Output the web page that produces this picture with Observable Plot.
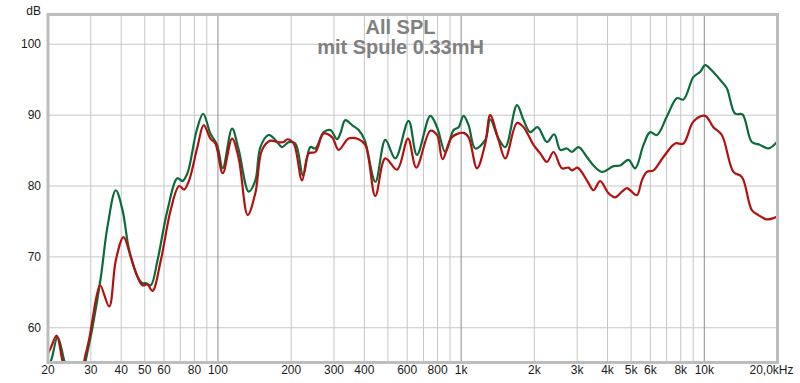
<!DOCTYPE html>
<html>
<head>
<meta charset="utf-8">
<script src="https://cdn.jsdelivr.net/npm/d3@7"></script>
<script src="https://cdn.jsdelivr.net/npm/@observablehq/plot@0.6"></script>
<style>
  html, body { margin: 0; padding: 0; background: #ffffff; }
  #chart svg { display: block; }
</style>
</head>
<body>
<div id="chart"></div>
<script>
// Frequency axis ticks and labels
const freqTicks = [20, 30, 40, 50, 60, 80, 100, 200, 300, 400, 600, 800, 1000, 2000, 3000, 4000, 5000, 6000, 8000, 10000];
const freqTickLabels = ["20", "30", "40", "50", "60", "80", "100", "200", "300", "400", "600", "800", "1k", "2k", "3k", "4k", "5k", "6k", "8k", "10k"];
const freqEndLabel = "20,0kHz";
const freqEnd = 20000;
const gridMinor = [30, 40, 50, 60, 70, 80, 90, 200, 300, 400, 500, 600, 700, 800, 900,
  2000, 3000, 4000, 5000, 6000, 7000, 8000, 9000];
const gridMajor = [100, 1000, 10000];
const dbTicks = [60, 70, 80, 90, 100];
const titleLines = "All SPL\nmit Spule 0.33mH";
const yUnit = "dB";

// Series (frequency Hz, level dB)
const greenSeries = [
  [20, 54.3], [20.7, 55.6], [21.9, 58.7], [23.3, 55.4], [25, 51], [27, 51], [28.6, 55.4],
  [30.5, 60.1], [33.0, 67.2], [35.1, 74.2], [38.0, 79.4], [40.5, 76.6], [43.1, 71.0],
  [46.7, 67.2], [48.9, 66.3], [50.5, 66.3], [52.9, 66.0], [56.4, 69.5], [62.0, 76.6],
  [68.1, 81.1], [71.4, 80.7], [74.9, 81.8], [81.8, 87.9], [86.9, 90.2], [93.1, 87.4],
  [99.2, 85.8], [104.6, 82.5], [114.3, 88.1], [121.7, 85.1], [133.8, 79.2], [142.5, 80.8],
  [149.4, 85.5], [161.6, 87.2], [172.3, 86.5], [183.5, 85.5], [195.3, 86.2], [208.1, 86.0],
  [223.8, 81.5], [239.9, 85.5], [251.5, 85.3], [272, 87.6], [289.8, 87.9], [308.8, 86.6],
  [318.6, 87.4], [334, 89.3], [356, 88.6], [379, 87.9], [401, 86.5], [444, 80.6],
  [488, 86.5], [536, 83.9], [608, 89.2], [658, 84.4], [747, 89.9], [796, 88.3],
  [861, 84.8], [931, 87.9], [976, 88.3], [1023, 89.9], [1073, 88.6], [1143, 85.3],
  [1257, 86.5], [1317, 89.4], [1425, 86.7], [1519, 85.5], [1697, 91.4], [1806, 89.3],
  [1924, 87.6], [2062, 88.3], [2253, 86.2], [2415, 87.3], [2556, 85.1], [2723, 85.3],
  [2855, 84.8], [3039, 85.5], [3290, 84.1], [3502, 82.9], [3792, 82.0], [4232, 82.8],
  [4510, 82.9], [4879, 83.7], [5198, 82.5], [5621, 85.8], [5990, 87.6], [6382, 87.2],
  [7015, 89.8], [7712, 92.4], [8208, 92.2], [9024, 95.4], [9613, 96.1], [10079, 97.05],
  [10740, 96.3], [11808, 94.7], [12378, 93.8], [13390, 90.2], [14347, 90.1], [15684, 86.2],
  [16964, 85.8], [18349, 85.3], [20000, 86.3]
];
const redSeries = [
  [20, 56.4], [20.5, 57.1], [21.7, 58.9], [22.9, 55.4], [24.5, 51], [27, 51], [28.2, 55.4],
  [29.5, 58.3], [31.9, 64.9], [32.8, 66.0], [35.7, 63.0], [38.0, 69.5], [40.9, 72.8],
  [43.8, 70.0], [46.7, 67.2], [48.9, 66.0], [51.3, 66.1], [53.8, 65.2], [58.2, 69.5],
  [63.9, 76.6], [69.2, 80.0], [72.6, 79.5], [76.1, 80.8], [82.3, 85.5], [87.4, 88.6],
  [93.1, 86.7], [97.6, 86.0], [104.6, 81.8], [114.3, 86.7], [121.7, 83.9], [132.5, 75.9],
  [142.5, 79.0], [151.9, 85.1], [164.3, 86.4], [175, 86.2], [186.3, 86.2], [193.4, 86.6],
  [204.8, 86.0], [221.7, 80.8], [236.1, 84.6], [251.5, 84.8], [272, 87.4], [294.5, 86.9],
  [313.5, 85.1], [344.7, 86.7], [378.8, 86.6], [403.6, 85.8], [443.7, 78.6], [487.8, 83.9],
  [545, 82.3], [604.6, 86.7], [654, 82.6], [746.7, 87.8], [795.6, 87.2], [838.9, 83.8],
  [917, 86.9], [1023, 87.5], [1073, 86.9], [1162, 82.5], [1257, 86.0], [1317, 90.0],
  [1425, 86.5], [1519, 83.9], [1697, 88.9], [1806, 88.3], [1985, 85.8], [2115, 84.6],
  [2253, 83.4], [2399, 84.8], [2597, 82.5], [2764, 82.6], [2855, 82.2], [3010, 82.6],
  [3290, 80.8], [3502, 79.4], [3731, 80.7], [4036, 79.0], [4301, 78.4], [4583, 79.2],
  [4805, 79.7], [4958, 79.4], [5282, 78.7], [5538, 80.8], [5805, 82.0], [6179, 82.2],
  [6792, 84.1], [7588, 86.0], [8208, 86.0], [9024, 89.1], [10079, 89.9], [10904, 88.3],
  [11808, 87.2], [13178, 82.0], [14268, 81.3], [15684, 76.6], [16693, 75.9], [18072, 75.3],
  [20000, 75.7]
];

const W = 800, H = 383;
const mL = 47.5, mR = 23, mT = 14, mB = 21;
const frameCenter = (mL + (W - mR)) / 2;

const chart = Plot.plot({
  width: W,
  height: H,
  marginLeft: mL,
  marginRight: mR,
  marginTop: mT,
  marginBottom: mB,
  x: { type: "log", domain: [20, 20000], axis: null },
  y: { domain: [55.1, 104.2], axis: null },
  style: { fontFamily: "'Liberation Sans', Arial, sans-serif", fontSize: "12px", background: "#ffffff", color: "#1a1a1a" },
  marks: [
    Plot.ruleX(gridMinor, { x: d => d, stroke: "#c6c6c6", strokeWidth: 1 }),
    Plot.ruleY(dbTicks, { y: d => d, stroke: "#c6c6c6", strokeWidth: 1 }),
    Plot.ruleX(gridMajor, { x: d => d, stroke: "#8c8c8c", strokeWidth: 1 }),
    Plot.text([titleLines], {
      text: d => d, frameAnchor: "top", dx: W / 2 - frameCenter, dy: 39,
      lineAnchor: "bottom", lineHeight: 1, fontSize: 20, fontWeight: "bold", fill: "#808080"
    }),
    Plot.line(greenSeries, { x: d => d[0], y: d => d[1], stroke: "#0b6b3a", strokeWidth: 2.2, curve: "catmull-rom", clip: true }),
    Plot.line(redSeries, { x: d => d[0], y: d => d[1], stroke: "#b31010", strokeWidth: 2.2, curve: "catmull-rom", clip: true }),
    Plot.frame({ stroke: "#bdbdbd", strokeWidth: 3 }),
    Plot.text(freqTicks, { x: d => d, text: (d, i) => freqTickLabels[i], frameAnchor: "bottom", dy: 11, fill: "#1a1a1a" }),
    Plot.text([freqEnd], { x: d => d, text: () => freqEndLabel, frameAnchor: "bottom", dy: 11, dx: -6, fill: "#1a1a1a" }),
    Plot.text(dbTicks, { y: d => d, text: d => String(d), frameAnchor: "left", textAnchor: "end", dx: -7, fill: "#1a1a1a" }),
    Plot.text([yUnit], { text: d => d, frameAnchor: "top-left", textAnchor: "end", dx: -7, dy: -8.5, fill: "#1a1a1a" })
  ]
});
document.getElementById("chart").appendChild(chart);
</script>
</body>
</html>
